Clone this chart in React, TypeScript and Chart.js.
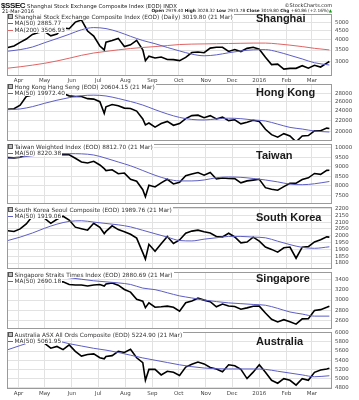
import React, { useEffect, useRef } from "react";
import { Chart, registerables } from "chart.js";
Chart.register(...registerables);

// ---------- data ----------
const weekDates = ["2015-03-20","2015-03-27","2015-04-03","2015-04-10","2015-04-17","2015-04-24","2015-05-01","2015-05-08","2015-05-15","2015-05-22","2015-05-29","2015-06-05","2015-06-12","2015-06-19","2015-06-26","2015-07-03","2015-07-08","2015-07-10","2015-07-17","2015-07-24","2015-07-31","2015-08-07","2015-08-14","2015-08-21","2015-08-24","2015-08-28","2015-09-04","2015-09-11","2015-09-18","2015-09-25","2015-10-02","2015-10-09","2015-10-16","2015-10-23","2015-10-30","2015-11-06","2015-11-13","2015-11-20","2015-11-27","2015-12-04","2015-12-11","2015-12-18","2015-12-25","2016-01-01","2016-01-08","2016-01-15","2016-01-22","2016-01-29","2016-02-05","2016-02-12","2016-02-19","2016-02-26","2016-03-04","2016-03-11","2016-03-18","2016-03-21"];

const shanghai = [3617,3691,3863,4035,4287,4394,4442,4206,4308,4658,4611,5023,5166,4478,4192,3687,3507,3877,3957,4070,3664,3744,3965,3508,3050,3232,3160,3200,3097,3092,3053,3183,3391,3412,3383,3590,3632,3630,3436,3525,3435,3578,3628,3539,3186,2901,2916,2737,2763,2763,2860,2767,2874,2810,2955,3019.8];
const hongKong = [24375,24486,25275,27273,27653,28061,28133,27577,27822,27993,27424,27260,27280,26760,26663,26064,23516,24901,25415,25128,24636,24552,23991,22410,21252,21612,20840,21504,21920,21186,21506,22459,23067,23152,22640,23052,22396,22755,22068,22235,21464,21756,22139,21914,20454,19520,19081,19683,19289,18320,19286,19364,20176,20199,20671,20604.15];
const taiwan = [9480,9470,9500,9650,9680,9760,9720,9620,9640,9650,9630,9450,9250,9200,9290,9092,8900,8796,8842,8628,8665,8339,8233,7786,7410,8019,7931,8150,8339,8091,8182,8520,8620,8694,8554,8700,8354,8402,8376,8371,8149,8253,8292,8338,7894,7811,7757,7950,8131,8131,8320,8411,8644,8599,8810,8812.7];
const korea = [2037,2031,2050,2087,2143,2159,2127,2091,2121,2143,2115,2063,2052,2041,2091,2062,2016,2032,2073,2045,2030,2011,1983,1876,1829,1937,1886,1941,1995,1943,1969,2019,2034,2041,2029,2020,1995,1992,2018,1991,1948,1954,1990,1961,1917,1900,1880,1912,1917,1835,1916,1920,1955,1971,1992,1989.76];
const singapore = [3453,3434,3447,3504,3512,3533,3420,3340,3350,3350,3300,3290,3290,3270,3290,3300,3270,3309,3328,3287,3203,3152,3014,2978,2853,2946,2861,2870,2882,2861,2787,2949,2983,3035,2998,2968,2869,2923,2886,2877,2824,2849,2879,2883,2751,2630,2577,2621,2580,2535,2638,2639,2797,2815,2860,2880.69];
const australia = [5930,5900,5880,5940,5900,5850,5768,5663,5700,5630,5734,5594,5490,5524,5537,5453,5430,5480,5500,5594,5570,5640,5453,5347,4962,5200,5200,5080,5160,5137,5070,5250,5310,5360,5320,5242,5208,5150,5300,5278,5200,5000,5140,5300,5137,4962,4899,4998,4962,4857,4998,4962,5137,5187,5208,5224.9];

const maDates = ["2015-03-20","2015-04-03","2015-04-17","2015-05-01","2015-05-15","2015-05-29","2015-06-12","2015-06-26","2015-07-10","2015-07-24","2015-08-07","2015-08-21","2015-09-04","2015-09-18","2015-10-02","2015-10-16","2015-10-30","2015-11-13","2015-11-27","2015-12-11","2015-12-25","2016-01-08","2016-01-22","2016-02-05","2016-02-19","2016-03-04","2016-03-21"];
const shanghaiMA50 = [3450,3520,3640,3850,4060,4290,4550,4680,4620,4430,4180,3960,3800,3620,3460,3320,3250,3290,3380,3460,3510,3520,3420,3270,3120,2970,2886];
const shanghaiMA200 = [2770,2820,2880,2950,3040,3150,3270,3370,3440,3510,3570,3620,3660,3710,3760,3780,3790,3800,3810,3820,3830,3830,3790,3730,3660,3580,3507];
const hongKongMA50 = [24300,24450,24950,25700,26400,27000,27450,27600,27400,26800,26100,25300,24300,23400,22700,22300,22200,22400,22550,22450,22200,22000,21400,20800,20500,20150,19972];
const taiwanMA50 = [9450,9500,9580,9650,9680,9690,9680,9620,9450,9250,9050,8800,8550,8350,8250,8250,8300,8420,8460,8440,8380,8300,8200,8080,8050,8100,8220];
const koreaMA50 = [1965,1990,2020,2055,2085,2105,2110,2100,2090,2080,2065,2040,2015,1990,1965,1962,1975,1985,1995,1995,1990,1985,1960,1935,1915,1908,1919];
const singaporeMA50 = [3420,3430,3450,3460,3450,3430,3400,3370,3350,3330,3300,3230,3200,3140,3080,3040,3000,2970,2945,2930,2915,2900,2840,2770,2730,2690,2690];
const australiaMA50 = [5630,5720,5800,5840,5820,5760,5710,5660,5620,5570,5510,5450,5400,5350,5300,5260,5230,5215,5210,5210,5210,5200,5160,5120,5080,5040,5062];

const monthTicks = ["2015-04-01","2015-05-01","2015-06-01","2015-07-01","2015-08-01","2015-09-01","2015-10-01","2015-11-01","2015-12-01","2016-01-01","2016-02-01","2016-03-01"];
const monthLabels = ["Apr","May","Jun","Jul","Aug","Sep","Oct","Nov","Dec","2016","Feb","Mar"];

const shanghaiTicks = [3000,3500,4000,4500,5000];
const hongKongTicks = [20000,22000,24000,26000,28000];
const taiwanTicks = [7500,8000,8500,9000,9500,10000];
const koreaTicks = [1800,1850,1900,1950,2000,2050,2100,2150,2200];
const singaporeTicks = [2600,2800,3000,3200,3400];
const australiaTicks = [4800,5000,5200,5400,5600,5800,6000];

// ---------- helpers ----------
function day(s: string) {
  const [y, m, d] = s.split("-").map(Number);
  return Date.UTC(y, m - 1, d) / 86400000;
}
const X_MIN = day("2015-03-19");
const X_MAX = day("2016-03-24");

const MA50_COLOR = "#5e5ec4";
const MA200_COLOR = "#e06464";
const SMALL_FONT = "'DejaVu Sans', Verdana, sans-serif";
const TITLE_FONT = "'Liberation Sans', Arial, sans-serif";
const GRID = "#e2e2e2";

type MA = { data: number[]; color: string; label: string };
type PanelCfg = {
  id: string; top: number; bottom: number; showX: boolean;
  scaleType: "linear" | "logarithmic"; min: number; max: number; ticks: number[];
  price: number[]; mas: MA[]; name: string; titleY: number; legend: string;
};

const panels: PanelCfg[] = [
  { id: "sh", top: 13, bottom: 76, showX: true, scaleType: "logarithmic", min: 2503, max: 5561, ticks: shanghaiTicks, price: shanghai,
    mas: [{ data: shanghaiMA50, color: MA50_COLOR, label: "MA(50) 2885.77" }, { data: shanghaiMA200, color: MA200_COLOR, label: "MA(200) 3506.93" }],
    name: "Shanghai", titleY: 18, legend: "Shanghai Stock Exchange Composite Index (EOD) (Daily) 3019.80 (21 Mar)" },
  { id: "hk", top: 83, bottom: 142, showX: false, scaleType: "logarithmic", min: 18497, max: 30370, ticks: hongKongTicks, price: hongKong,
    mas: [{ data: hongKongMA50, color: MA50_COLOR, label: "MA(50) 19972.40" }],
    name: "Hong Kong", titleY: 92.5, legend: "Hong Kong Hang Seng (EOD) 20604.15 (21 Mar)" },
  { id: "tw", top: 143, bottom: 205, showX: false, scaleType: "linear", min: 7044, max: 10188, ticks: taiwanTicks, price: taiwan,
    mas: [{ data: taiwanMA50, color: MA50_COLOR, label: "MA(50) 8220.38" }],
    name: "Taiwan", titleY: 155.5, legend: "Taiwan Weighted Index (EOD) 8812.70 (21 Mar)" },
  { id: "kr", top: 206, bottom: 270, showX: false, scaleType: "linear", min: 1758, max: 2209, ticks: koreaTicks, price: korea,
    mas: [{ data: koreaMA50, color: MA50_COLOR, label: "MA(50) 1919.06" }],
    name: "South Korea", titleY: 217, legend: "South Korea Seoul Composite (EOD) 1989.76 (21 Mar)" },
  { id: "sg", top: 271, bottom: 330, showX: false, scaleType: "linear", min: 2447, max: 3535, ticks: singaporeTicks, price: singapore,
    mas: [{ data: singaporeMA50, color: MA50_COLOR, label: "MA(50) 2690.18" }],
    name: "Singapore", titleY: 278, legend: "Singapore Straits Times Index (EOD) 2880.69 (21 Mar)" },
  { id: "au", top: 331, bottom: 389, showX: true, scaleType: "linear", min: 4773, max: 6010, ticks: australiaTicks, price: australia,
    mas: [{ data: australiaMA50, color: MA50_COLOR, label: "MA(50) 5061.95" }],
    name: "Australia", titleY: 341.5, legend: "Australia ASX All Ords Composite (EOD) 5224.90 (21 Mar)" },
];

const borderPlugin = {
  id: "panelBorder",
  afterDraw(chart: any) {
    const { ctx, chartArea: a } = chart;
    ctx.save();
    ctx.strokeStyle = "#9a9a9a";
    ctx.lineWidth = 1;
    ctx.strokeRect(Math.round(a.left) + 0.5, Math.round(a.top) + 0.5, Math.round(a.right - a.left) - 1, Math.round(a.bottom - a.top) - 1);
    ctx.restore();
  },
};

const PAD_TOP = 5;

function Panel({ cfg }: { cfg: PanelCfg }) {
  const ref = useRef<HTMLCanvasElement>(null);
  const xH = cfg.showX ? 9 : 0;
  const padBottom = cfg.showX ? 2 : 5;
  const height = cfg.bottom - cfg.top + PAD_TOP + xH + padBottom;
  useEffect(() => {
    if (!ref.current) return;
    const chart = new Chart(ref.current, {
      type: "line",
      data: {
        datasets: [
          ...cfg.mas.map((m) => ({
            data: maDates.map((d, i) => ({ x: day(d), y: m.data[i] })),
            borderColor: m.color,
            borderWidth: 1,
            pointRadius: 0,
            cubicInterpolationMode: "monotone" as const,
          })),
          {
            data: weekDates.map((d, i) => ({ x: day(d), y: cfg.price[i] })),
            borderColor: "#000",
            borderWidth: 1.6,
            pointRadius: 0,
            tension: 0,
          },
        ],
      },
      options: {
        animation: false,
        responsive: false,
        maintainAspectRatio: false,
        events: [],
        layout: { padding: { left: 7, right: 0, top: PAD_TOP, bottom: padBottom } },
        plugins: { legend: { display: false }, tooltip: { enabled: false } },
        scales: {
          x: {
            type: "linear",
            min: X_MIN,
            max: X_MAX,
            afterBuildTicks: (s: any) => { s.ticks = monthTicks.map((d) => ({ value: day(d) })); },
            afterFit: (s: any) => { s.height = xH; },
            ticks: {
              display: cfg.showX,
              autoSkip: false,
              maxRotation: 0,
              padding: 1,
              color: "#444",
              font: { size: 5.5, family: SMALL_FONT },
              callback: (_v: any, i: number) => monthLabels[i],
            },
            grid: { color: GRID, drawTicks: false },
            border: { display: false },
          },
          y: {
            type: cfg.scaleType,
            position: "right",
            min: cfg.min,
            max: cfg.max,
            afterBuildTicks: (s: any) => { s.ticks = cfg.ticks.map((v) => ({ value: v })); },
            afterFit: (s: any) => { s.width = 27; },
            ticks: {
              autoSkip: false,
              padding: 3,
              color: "#444",
              font: { size: 5.4, family: SMALL_FONT },
              callback: (v: any) => String(v),
            },
            grid: { color: GRID, drawTicks: false },
            border: { display: false },
          },
        },
      } as any,
      plugins: [borderPlugin],
    });
    return () => chart.destroy();
  }, []);
  return (
    <canvas
      ref={ref}
      width={359}
      height={height}
      style={{ position: "absolute", left: 0, top: cfg.top - PAD_TOP, width: 359, height }}
    />
  );
}

function Legend({ cfg }: { cfg: PanelCfg }) {
  const row: React.CSSProperties = {
    display: "block", height: 6.6, lineHeight: "6.6px", whiteSpace: "nowrap",
  };
  const chip: React.CSSProperties = { background: "#fff", padding: "0 1px 0 0" };
  return (
    <div style={{ position: "absolute", left: 8, top: cfg.top + 0.5, zIndex: 2, fontFamily: SMALL_FONT, fontSize: 5.8, color: "#333" }}>
      <div style={row}>
        <span style={chip}>
          <span style={{ display: "inline-block", width: 3, height: 3, border: "1px solid #555", marginRight: 1.5, verticalAlign: "middle", background: "#bbb" }} />
          {cfg.legend}
        </span>
      </div>
      {cfg.mas.map((m) => (
        <div style={row} key={m.label}>
          <span style={chip}>
            <span style={{ display: "inline-block", width: 5, height: 1, background: m.color, marginRight: 1.5, verticalAlign: "middle" }} />
            {m.label}
          </span>
        </div>
      ))}
    </div>
  );
}

function Title({ cfg }: { cfg: PanelCfg }) {
  return (
    <div style={{ position: "absolute", left: 256, top: cfg.titleY - 5.5, height: 11, lineHeight: "11px", zIndex: 2, fontFamily: TITLE_FONT, fontWeight: "bold", fontSize: 11, color: "#1a1a1a", whiteSpace: "nowrap" }}>
      {cfg.name}
    </div>
  );
}

export default function App() {
  const small: React.CSSProperties = { fontFamily: SMALL_FONT, fontSize: 5, color: "#222", whiteSpace: "nowrap", position: "absolute", lineHeight: "6px" };
  return (
    <div style={{ position: "absolute", left: 0, top: 0, width: 359, height: 400, background: "#fff", overflow: "hidden" }}>
      {panels.map((p) => <Panel key={p.id} cfg={p} />)}
      {panels.map((p) => <Legend key={"l" + p.id} cfg={p} />)}
      {panels.map((p) => <Title key={"t" + p.id} cfg={p} />)}
      <div style={{ position: "absolute", left: 1, top: 0.5, fontFamily: TITLE_FONT, fontWeight: "bold", fontSize: 8, letterSpacing: -0.4, lineHeight: "9px", color: "#111" }}>$SSEC</div>
      <div style={{ ...small, left: 27, top: 2.5, fontSize: 5.4 }}>Shanghai Stock Exchange Composite Index (EOD) INDX</div>
      <div style={{ ...small, right: 27, top: 2 }}>©StockCharts.com</div>
      <div style={{ ...small, left: 2, top: 8 }}>21-Mar-2016</div>
      <div style={{ ...small, right: 27, top: 8, fontSize: 4.3 }}>
        <b>Open</b> 2979.40 <b>High</b> 3028.32 <b>Low</b> 2973.78 <b>Close</b> 3019.80 <b>Chg</b> +60.86 (+2.16%)<span style={{ color: "#1a9a1a" }}>▲</span>
      </div>
    </div>
  );
}
